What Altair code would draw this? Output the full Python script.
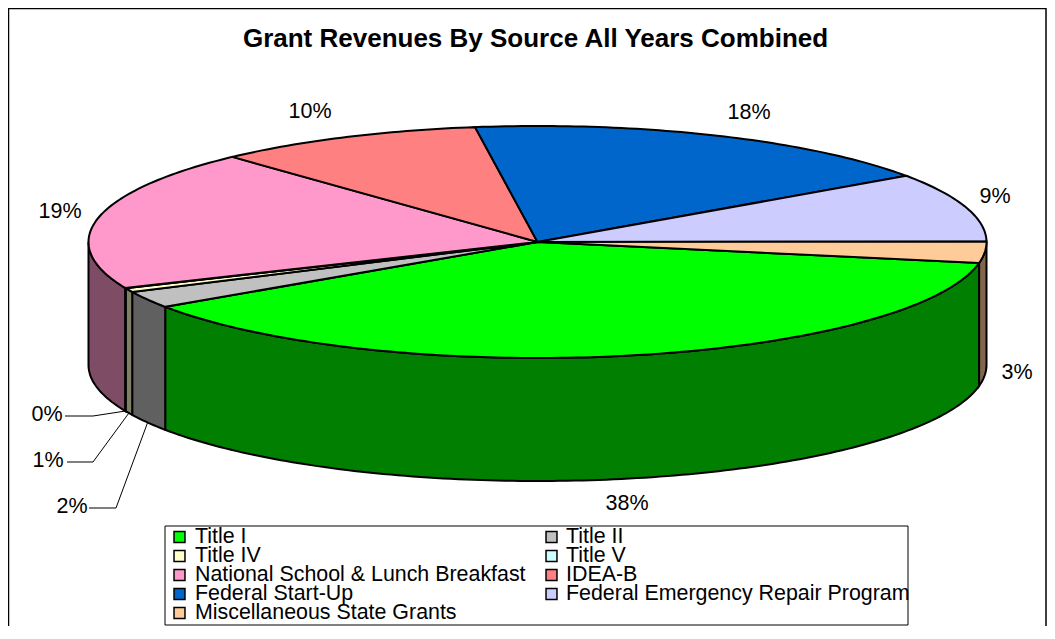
import math
import altair as alt

# ---- data
categories = ["Title I", "Title II", "Title IV", "Title V", "National School & Lunch Breakfast",
              "IDEA-B", "Federal Start-Up", "Federal Emergency Repair Program", "Miscellaneous State Grants"]
shares = [37.67, 2.36, 0.56, 0.05, 19.58, 9.67, 17.56, 9.58, 2.97]
share_labels = ["38%", "2%", "1%", "0%", "19%", "10%", "18%", "9%", "3%"]
colors = ["#00FF00", "#C0C0C0", "#FFFFCC", "#CCFFFF", "#FF99CC", "#FF8080", "#0066CC", "#CCCCFF", "#FFCC99"]
wall_colors = ["#007F00", "#606060", "#7F7F66", "#667F7F", "#7F4C66", "#7F4040", "#003366", "#66667F", "#7F664C"]

# ---- layout (page pixels are shifted by the 8px page margin)
M = 8
CX, CY, RX, RY, DEPTH = 537.5 - M, 242 - M, 449, 116, 123
START = 10.4
label_pos = {"38%": (627, 504), "2%": (72, 507), "1%": (48, 461), "0%": (47, 415),
             "19%": (60, 212), "10%": (310, 112), "18%": (749, 113), "9%": (995, 197), "3%": (1017, 373)}
leader_elbow = {"2%": [(89, 508), (116, 508)], "1%": [(67, 462), (93, 462)], "0%": [(65, 416), (93, 416)]}
W, H = 1039, 618
FONT = "Liberation Sans"
BOX = (165 - M, 526 - M, 908 - M, 625 - M)
KEY_X = (179.5 - M, 551.5 - M)
KEY_TEXT_X = (195 - M, 566 - M)
KEY_Y0, KEY_PITCH = 537 - M, 19


def pt(t, dy=0):
    r = math.radians(t)
    return [CX + RX * math.cos(r), CY + RY * math.sin(r) + dy]


def feature(name, geom_type, coords, **props):
    return {"type": "Feature", "geometry": {"type": geom_type, "coordinates": coords},
            "properties": {"name": name, **props}}


def arc(a, b, dy=0):
    n = max(2, int(abs(b - a)) + 2)
    return [pt(a + (b - a) * i / (n - 1), dy) for i in range(n)]


total = sum(shares)
edges = [START]
for s in shares:
    edges.append(edges[-1] + s / total * 360)

tops, walls, texts, leaders, key_marks, key_texts = [], [], [], [], [], []
for i, name in enumerate(categories):
    a, b = edges[i], edges[i + 1]
    ring = [[CX, CY]] + arc(a, b) + [[CX, CY]]
    tops.append(feature(name, "Polygon", [ring]))
    for k in (0, 360):
        lo, hi = max(a, k), min(b, k + 180)
        if lo < hi:
            upper = arc(lo, hi)
            lower = arc(hi, lo, DEPTH)
            walls.append(feature(name, "Polygon", [upper + lower + [upper[0]]], fill=wall_colors[i]))
    lab = share_labels[i]
    x, y = label_pos[lab]
    texts.append({"lon": x - M, "lat": y - M, "label": lab})
    if lab in leader_elbow:
        path = [[px - M, py - M] for px, py in leader_elbow[lab]] + [pt((a + b) / 2, DEPTH)]
        leaders.append(feature(lab, "LineString", path))
    row, col = divmod(i, 2)
    key_y = KEY_Y0 + row * KEY_PITCH
    key_marks.append({"lon": KEY_X[col], "lat": key_y, "name": name})
    key_texts.append({"lon": KEY_TEXT_X[col], "lat": key_y, "name": name})

frame = [feature("frame", "LineString", [[0.5, H], [0.5, 0.5], [W - 1, 0.5], [W - 1, H]])]
x0, y0, x1, y1 = BOX
box = [feature("legend box", "Polygon", [[[x0, y0], [x1, y0], [x1, y1], [x0, y1], [x0, y0]]])]

identity = dict(type="identity", scale=1, translate=[0, 0])
series_scale = alt.Scale(domain=categories, range=colors)

wall_layer = alt.Chart(alt.Data(values=walls)).mark_geoshape(stroke="black", strokeWidth=2).encode(
    color=alt.Color("properties.fill:N", scale=None, legend=None)
).project(**identity)

top_layer = alt.Chart(alt.Data(values=tops)).mark_geoshape(stroke="black", strokeWidth=2).encode(
    color=alt.Color("properties.name:N", scale=series_scale, legend=None)
).project(**identity)

leader_layer = alt.Chart(alt.Data(values=leaders)).mark_geoshape(
    filled=False, stroke="black", strokeWidth=1
).project(**identity)

frame_layer = alt.Chart(alt.Data(values=frame)).mark_geoshape(
    filled=False, stroke="black", strokeWidth=1.5
).project(**identity)

text_layer = alt.Chart(alt.Data(values=texts)).mark_text(
    font=FONT, fontSize=21.5, color="black", align="center", baseline="middle"
).encode(longitude="lon:Q", latitude="lat:Q", text="label:N").project(**identity)

box_layer = alt.Chart(alt.Data(values=box)).mark_geoshape(
    fill="white", stroke="black", strokeWidth=1
).project(**identity)

key_mark_layer = alt.Chart(alt.Data(values=key_marks)).mark_square(
    size=120, stroke="black", strokeWidth=1.5, opacity=1
).encode(
    longitude="lon:Q", latitude="lat:Q",
    color=alt.Color("name:N", scale=series_scale, legend=None),
).project(**identity)

key_text_layer = alt.Chart(alt.Data(values=key_texts)).mark_text(
    font=FONT, fontSize=21.4, color="black", align="left", baseline="middle"
).encode(longitude="lon:Q", latitude="lat:Q", text="name:N").project(**identity)

chart = (
    alt.layer(frame_layer, wall_layer, top_layer, leader_layer, text_layer,
              box_layer, key_mark_layer, key_text_layer)
    .resolve_scale(color="independent")
    .properties(
        width=W, height=H, padding=0, autosize=alt.AutoSizeParams(type="none"),
        title=alt.TitleParams(
            "Grant Revenues By Source All Years Combined", font=FONT, fontSize=26, fontWeight="bold",
            color="black", anchor="middle", offset=-44, dx=8,
        ),
    )
    .configure_view(stroke=None)
)

chart.save("out.html", embed_options={"renderer": "svg", "actions": False})
